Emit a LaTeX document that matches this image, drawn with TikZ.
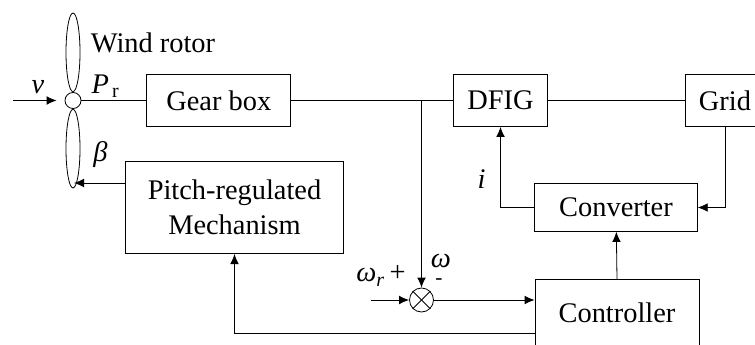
\documentclass[tikz,border=0pt]{standalone}
\usepackage{fontspec}
\setmainfont{Liberation Serif}
\usetikzlibrary{shapes.geometric,arrows.meta}
\tikzset{
  blockbox/.style={draw, inner sep=0pt, font=\fontsize{21.3}{26}\selectfont, align=center},
  blade/.style={draw, ellipse, inner sep=0pt, minimum width=10.5pt, minimum height=59pt},
  lbl/.style={inner sep=0pt, font=\fontsize{21.3}{26}\selectfont},
  arr/.style={-{Latex[length=7.5pt,width=6.5pt]}},
}
\begin{document}
\begin{tikzpicture}[x=0.75pt,y=-0.75pt,line width=0.6pt]
        \useasboundingbox (0,0) rectangle (755,345);

        \node[blockbox, minimum width=108pt, minimum height=39pt] (gear) at (218.8,100.5) {Gear box};
        \node[blockbox, minimum width=71pt, minimum height=39pt] (dfig) at (500.5,100.5) {DFIG};
        \node[blockbox, minimum width=60pt, minimum height=39pt] (grid) at (725,100.5) {Grid};
        \node[blockbox, minimum width=122pt, minimum height=36pt] (conv) at (616,207.5) {Converter};
        \node[blockbox, minimum width=164pt, minimum height=69.5pt] (pitch) at (234.5,207.3) {Pitch-regulated\\Mechanism};
        \node[blockbox, minimum width=123pt, minimum height=50pt] (ctrl) at (617,313) {Controller};

        \node[draw, circle, inner sep=0pt, minimum size=12pt] (hub) at (73,100.5) {};
        \node[blade, anchor=south] (top) at (hub.north) {};
        \node[blade, anchor=north] (low) at (hub.south) {};
        \node[draw, circle, inner sep=0pt, minimum size=18pt] (sum) at (421.5,300) {};
        \draw (sum.45) -- (sum.225);
        \draw (sum.135) -- (sum.315);

        \coordinate (vin) at (13,100.5);
        \coordinate (wrin) at (371,300);
        \coordinate (tap) at (421.5,100.5);
        \coordinate (ptip) at (74,183);

        \draw[arr, shorten >=6pt] (vin) -- (hub);
        \draw (hub) -- (gear);
        \draw (gear) -- (dfig);
        \draw (dfig) -- (grid);
        \draw[arr] (tap) -- (sum);
        \draw[arr] (wrin) -- (sum);
        \draw[arr] (sum) -- (ctrl.west |- sum);
        \draw[arr] (ctrl.north) -- (conv);
        \draw[arr] (conv.west) -| (dfig);
        \draw[arr] (grid) |- (conv.east);
        \draw[arr] (ctrl.west |- 0,333) -| (pitch.south);
        \draw[arr] (pitch.west |- ptip) -- (ptip);

        \node[lbl, anchor=west] (rotorlbl) at (90.5,43) {Wind rotor};
        \node[lbl] (vlbl) at (38,87) {\textit{v}};
        \node[lbl] (plbl) at (105.5,86) {\textit{P}\textsubscript{\,r}};
        \node[lbl] (blbl) at (100.5,155) {\textit{β}};
        \node[lbl] (ilbl) at (481.5,179) {\textit{i}};
        \node[lbl] (wrlbl) at (381,276) {\textit{ω\textsubscript{r}}\,+};
        \node[lbl] (wlbl) at (441,261) {\textit{ω}};
        \node[lbl, font=\fontsize{16}{20}\selectfont] (mlbl) at (439,282) {-};
    \end{tikzpicture}
\end{document}
